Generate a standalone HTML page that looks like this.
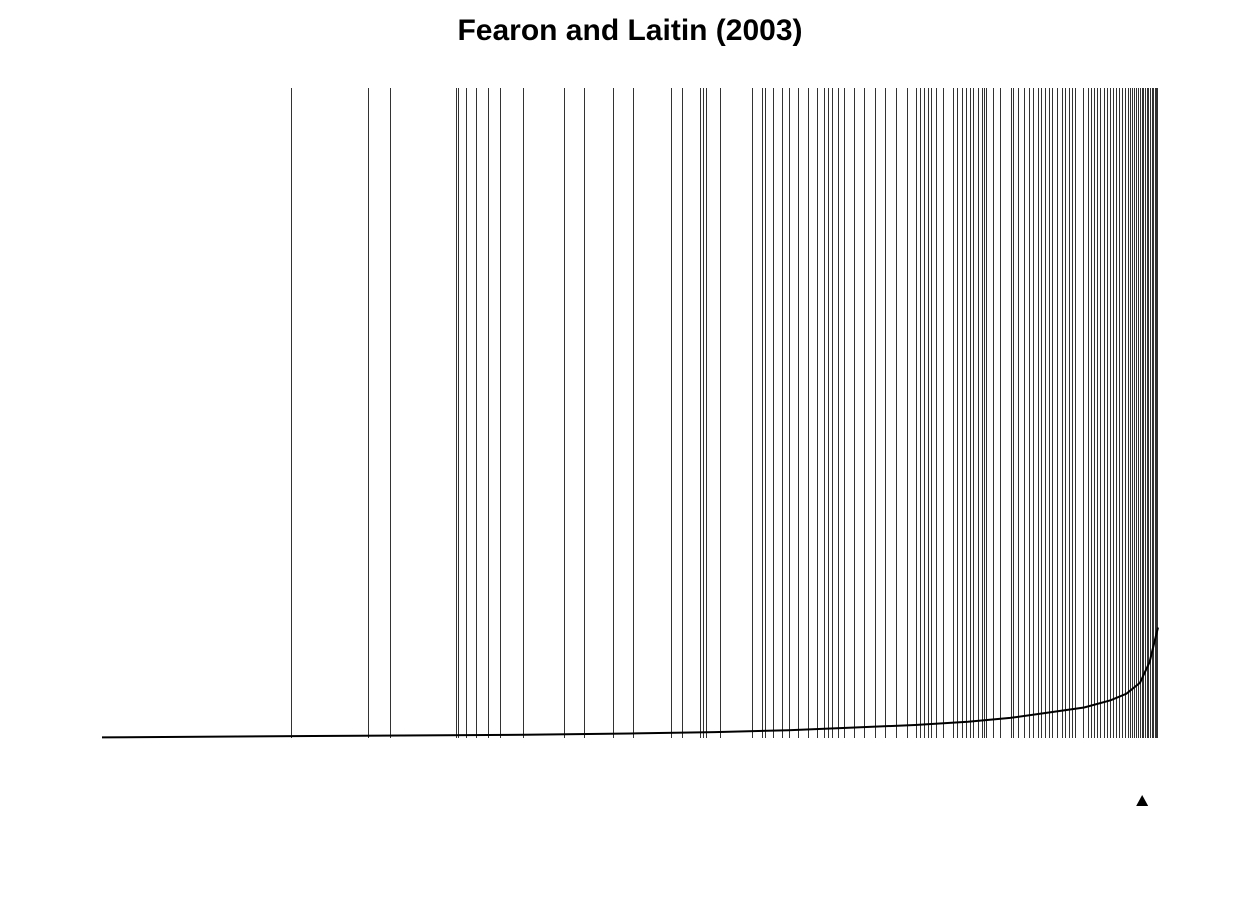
<!DOCTYPE html>
<html><head><meta charset="utf-8"><style>
body{margin:0;background:#fff}
</style></head><body>
<svg width="1260" height="892" xmlns="http://www.w3.org/2000/svg">
<rect width="1260" height="892" fill="#fff"/>
<text x="630" y="40" text-anchor="middle" font-family="Liberation Sans, sans-serif" font-weight="bold" font-size="30">Fearon and Laitin (2003)</text>
<g id="events" shape-rendering="crispEdges"></g>
<path id="curve" fill="none" stroke="#000" stroke-width="2"/>
<polygon id="marker" fill="#000"/>
</svg>
<script>
// Event positions (pixel-derived rank fractions of observations with onset=1)
const eventRanks = [291,368,390,456,458,466,476,488,500,523,564,584,613,633,671,682,700,703,706,720,752,762,765,773,782,789,798,808,817,824,828,832,838,844,854,864,875,885,896,907,916,920,924,928,931,936,943,953,957,962,966,970,973,978,982,984,986,993,1000,1011,1013,1018,1024,1029,1033,1038,1041,1045,1049,1052,1057,1062,1065,1069,1072,1075,1083,1088,1091,1094,1097,1100,1104,1107,1110,1113,1116,1119,1122,1125,1128,1130,1132,1134,1136,1138,1140,1142,1143,1145,1147,1148,1150,1152,1153,1155,1156,1157].map(v=>(v-102)/1056);
// Fitted probability curve: rank fraction, probability
const curveRanks = [0,0.2,0.4,0.5,0.58,0.65,0.71,0.77,0.82,0.86,0.9,0.93,0.955,0.97,0.983,0.992,0.997,1];
const curveProbs = [0.001,0.003,0.005,0.007,0.009,0.012,0.016,0.02,0.025,0.031,0.04,0.047,0.058,0.068,0.085,0.117,0.15,0.17];
const expectedEvents = 0.985;
const X0=102,X1=1158,Y0=738,Y1=88;
const xs=f=>X0+f*(X1-X0), ys=p=>Y0-p*(Y0-Y1);
const ns="http://www.w3.org/2000/svg";
const g=document.getElementById('events');
eventRanks.forEach(r=>{
 const l=document.createElementNS(ns,'line');
 const x=Math.round(xs(r))+0.5;
 l.setAttribute('x1',x);l.setAttribute('x2',x);l.setAttribute('y1',Y1);l.setAttribute('y2',Y0);
 l.setAttribute('stroke','#333');l.setAttribute('stroke-width','1');
 
 
 g.appendChild(l);
});
document.getElementById('curve').setAttribute('d',curveRanks.map((r,i)=>(i?'L':'M')+xs(r).toFixed(1)+','+ys(curveProbs[i]).toFixed(1)).join(''));
const mx=xs(expectedEvents),my=801;
document.getElementById('marker').setAttribute('points',`${mx-6},${my+5} ${mx+6},${my+5} ${mx},${my-6}`);
</script>
</body></html>
